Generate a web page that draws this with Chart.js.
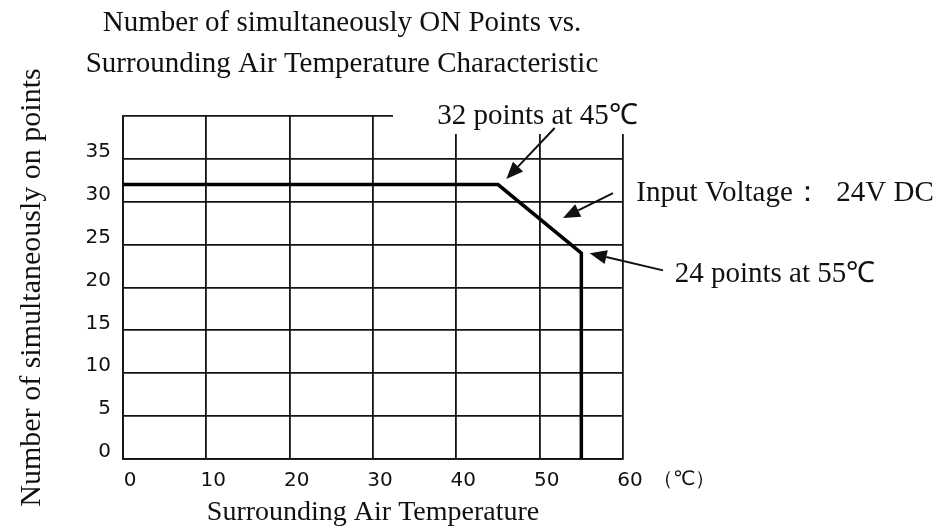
<!DOCTYPE html>
<html>
<head>
<meta charset="utf-8">
<script src="https://cdn.jsdelivr.net/npm/chart.js@4.4.1/dist/chart.umd.min.js"></script>
<style>
html,body{margin:0;padding:0;background:#fff;}
#wrap{width:934px;height:531px;position:relative;}
</style>
</head>
<body>
<div id="wrap"><canvas id="c" width="934" height="531"></canvas></div>
<script>
// ---- data ----
const temperatures = [0, 45, 55, 55];          // °C
const onPoints     = [32, 32, 24, 0];          // simultaneously ON points
const xTickValues  = [0, 10, 20, 30, 40, 50, 60];
const yTickValues  = [0, 5, 10, 15, 20, 25, 30, 35];
const titleLines   = ['Number of simultaneously ON Points vs.', 'Surrounding Air Temperature Characteristic'];
const xTitle       = 'Surrounding Air Temperature';
const yTitle       = 'Number of simultaneously on points';
const xUnit        = '（℃）';
// annotation texts anchored in data units [x, y]
const noteTexts    = ['32 points at 45℃', 'Input Voltage：  24V DC', '24 points at 55℃'];
const noteAnchors  = [[37.7, 39.9], [61.6, 31.0], [66.2, 21.5]];
// arrows: [tailX, tailY, tipX, tipY] in data units
const arrows       = [[51.8, 38.6, 46.0, 32.65], [58.8, 31.0, 52.8, 28.1], [64.8, 22.0, 56.0, 24.0]];

const serif = '"Liberation Serif", "Times New Roman", serif';
const sans  = '"DejaVu Sans", Verdana, sans-serif';
const ink = '#111';

const decorPlugin = {
  id: 'decor',
  beforeDatasetsDraw(chart) {
    const {ctx, scales: {x, y}} = chart;
    // the reference leaves the top-right part of the frame open
    ctx.save();
    ctx.fillStyle = '#fff';
    const x0 = x.getPixelForValue(32.4);
    const y1 = y.getPixelForValue(37.9);
    ctx.fillRect(x0, 0, chart.width - x0, y1);
    ctx.restore();
  },
  afterDraw(chart) {
    const {ctx, scales: {x, y}} = chart;
    ctx.save();
    // title
    ctx.fillStyle = ink;
    ctx.font = '29px ' + serif;
    ctx.textAlign = 'center';
    ctx.textBaseline = 'alphabetic';
    ctx.fillText(titleLines[0], 342, 31);
    ctx.fillText(titleLines[1], 342, 72);
    // notes
    ctx.textAlign = 'left';
    ctx.textBaseline = 'middle';
    noteTexts.forEach((t, i) => {
      ctx.fillText(t, x.getPixelForValue(noteAnchors[i][0]), y.getPixelForValue(noteAnchors[i][1]));
    });
    // unit after last x tick
    ctx.font = '20px ' + sans;
    ctx.fillText(xUnit, x.getPixelForValue(60) + 30, x.top + 21);
    // arrows
    ctx.strokeStyle = ink;
    ctx.lineWidth = 2;
    arrows.forEach(a => {
      const tx = x.getPixelForValue(a[0]), ty = y.getPixelForValue(a[1]);
      const hx = x.getPixelForValue(a[2]), hy = y.getPixelForValue(a[3]);
      const ang = Math.atan2(hy - ty, hx - tx);
      const L = 17, W = 7;
      const bx = hx - L * Math.cos(ang), by = hy - L * Math.sin(ang);
      ctx.beginPath();
      ctx.moveTo(tx, ty);
      ctx.lineTo(bx, by);
      ctx.stroke();
      ctx.beginPath();
      ctx.moveTo(hx, hy);
      ctx.lineTo(bx + W * Math.sin(ang), by - W * Math.cos(ang));
      ctx.lineTo(bx - W * Math.sin(ang), by + W * Math.cos(ang));
      ctx.closePath();
      ctx.fillStyle = ink;
      ctx.fill();
    });
    ctx.restore();
  }
};

new Chart(document.getElementById('c'), {
  type: 'line',
  data: {
    datasets: [{
      data: temperatures.map((t, i) => ({x: t, y: onPoints[i]})),
      borderColor: '#000',
      borderWidth: 3.5,
      pointRadius: 0,
      tension: 0,
      fill: false
    }]
  },
  options: {
    responsive: false,
    animation: false,
    layout: {padding: {top: 116, right: 311, left: 0, bottom: 0}},
    plugins: {legend: {display: false}, tooltip: {enabled: false}, title: {display: false}},
    scales: {
      x: {
        type: 'linear', min: 0, max: 60,
        afterBuildTicks: s => { s.ticks = xTickValues.map(v => ({value: v})); },
        afterFit: s => { s.height = 72; },
        grid: {color: '#141414', lineWidth: 1.8, drawTicks: false},
        border: {color: '#141414', width: 1.8},
        ticks: {color: ink, font: {family: sans, size: 20}, padding: 10, labelOffset: 7, maxRotation: 0, autoSkip: false},
        title: {display: true, text: xTitle, color: ink, font: {family: serif, size: 28}, padding: {top: 0, bottom: 2}}
      },
      y: {
        type: 'linear', min: 0, max: 40,
        afterBuildTicks: s => { s.ticks = yTickValues.concat([40]).map(v => ({value: v})); },
        afterFit: s => { s.width = 123; },
        grid: {color: '#141414', lineWidth: 1.8, drawTicks: false},
        border: {color: '#141414', width: 1.8},
        ticks: {color: ink, font: {family: sans, size: 20}, padding: 12, labelOffset: -7,
                callback: v => yTickValues.includes(v) ? String(v) : ''},
        title: {display: true, text: yTitle, color: ink, font: {family: serif, size: 30}, padding: {top: 14, bottom: 0}}
      }
    }
  },
  plugins: [decorPlugin]
});
</script>
</body>
</html>
